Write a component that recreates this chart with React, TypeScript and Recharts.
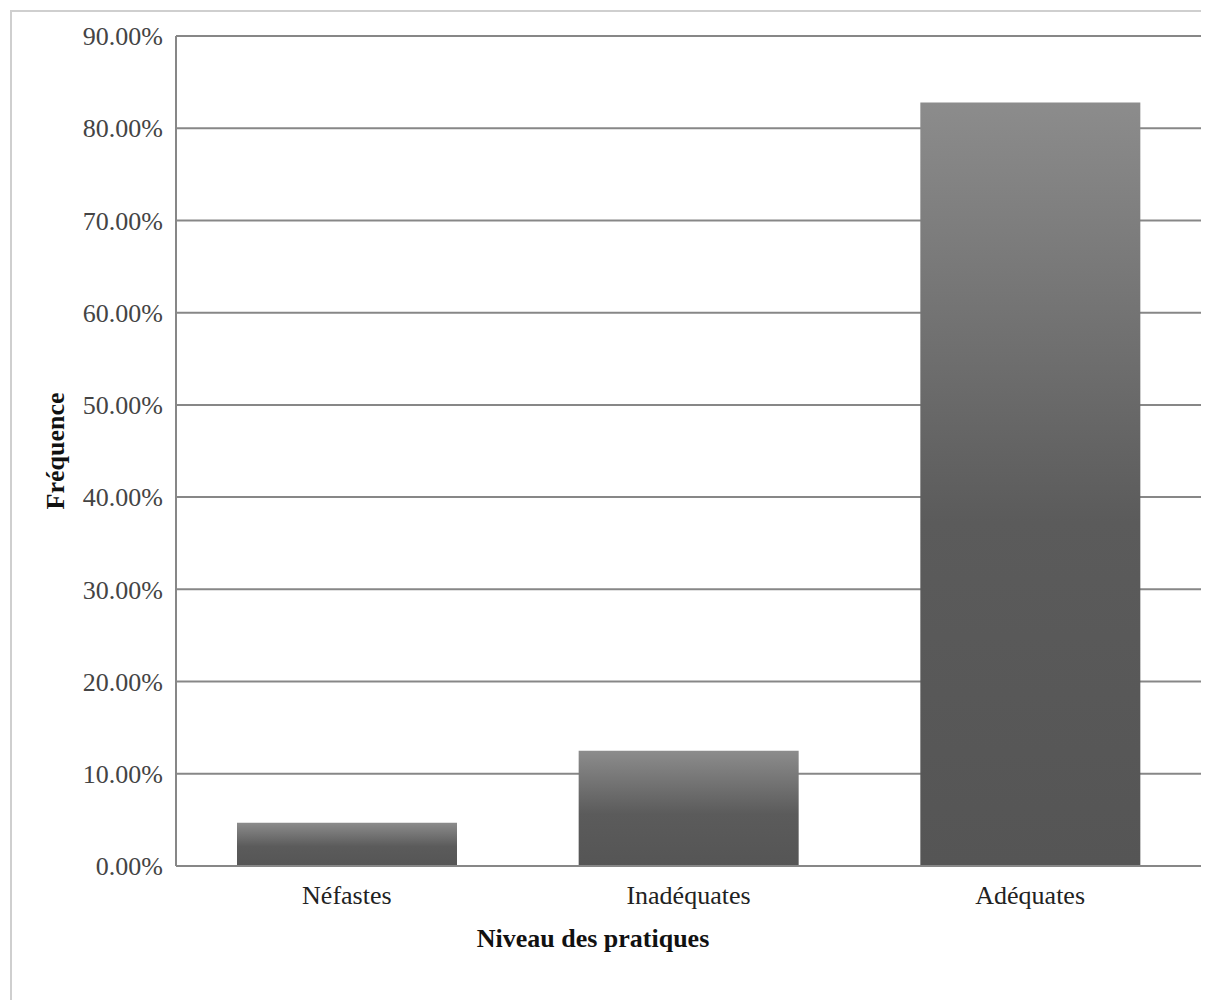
import { BarChart, Bar, XAxis, YAxis, CartesianGrid, Label } from "recharts"

const categories = ["Néfastes", "Inadéquates", "Adéquates"]
const frequences = [4.7, 12.5, 82.8]
const yTicks = [0, 10, 20, 30, 40, 50, 60, 70, 80, 90]

const data = categories.map((niveau, i) => ({ niveau, frequence: frequences[i] }))

const FONT = "'Liberation Serif', 'Times New Roman', serif"
const GRID = "#878787"

export default function App() {
  return (
    <div
      style={{
        position: "relative",
        left: 2,
        top: 2,
        width: 1190,
        height: 990,
        borderLeft: "2px solid #cfcfcf",
        borderTop: "2px solid #cfcfcf",
        borderRight: "2px solid #dcdcdc",
        background: "#fff",
      }}
    >
      <BarChart
        width={1190}
        height={990}
        data={data}
        margin={{ top: 24, right: 1, left: 0, bottom: 36 }}
      >
        <defs>
          {/* excel-ish vertical gradient */}
          <linearGradient id="barGrad" x1="0" y1="0" x2="0" y2="1">
            <stop offset="0%" stopColor="#8c8c8c" />
            <stop offset="55%" stopColor="#5b5b5b" />
            <stop offset="100%" stopColor="#555555" />
          </linearGradient>
        </defs>
        <CartesianGrid vertical={false} stroke={GRID} strokeWidth={2} />
        <XAxis
          dataKey="niveau"
          height={100}
          axisLine={{ stroke: GRID, strokeWidth: 2 }}
          tickLine={false}
          tickSize={0}
          tickMargin={20}
          tick={{ fontFamily: FONT, fontSize: 26, fill: "#222" }}
        >
          <Label
            content={() => (
              <text
                x={581}
                y={935}
                textAnchor="middle"
                fontFamily={FONT}
                fontSize={26}
                fontWeight="bold"
                fill="#111"
              >
                Niveau des pratiques
              </text>
            )}
          />
        </XAxis>
        <YAxis
          width={164}
          domain={[0, 90]}
          ticks={yTicks}
          interval={0}
          axisLine={{ stroke: GRID, strokeWidth: 2 }}
          tickLine={false}
          tickSize={0}
          tickMargin={13}
          tickFormatter={(v) => `${v.toFixed(2)}%`}
          tick={{ fontFamily: FONT, fontSize: 26, fill: "#444" }}
        >
          <Label
            content={() => (
              <text
                x={52}
                y={439}
                transform="rotate(-90 52 439)"
                textAnchor="middle"
                fontFamily={FONT}
                fontSize={26}
                fontWeight="bold"
                fill="#111"
              >
                Fréquence
              </text>
            )}
          />
        </YAxis>
        <Bar dataKey="frequence" fill="url(#barGrad)" barSize={220} isAnimationActive={false} />
      </BarChart>
    </div>
  )
}
